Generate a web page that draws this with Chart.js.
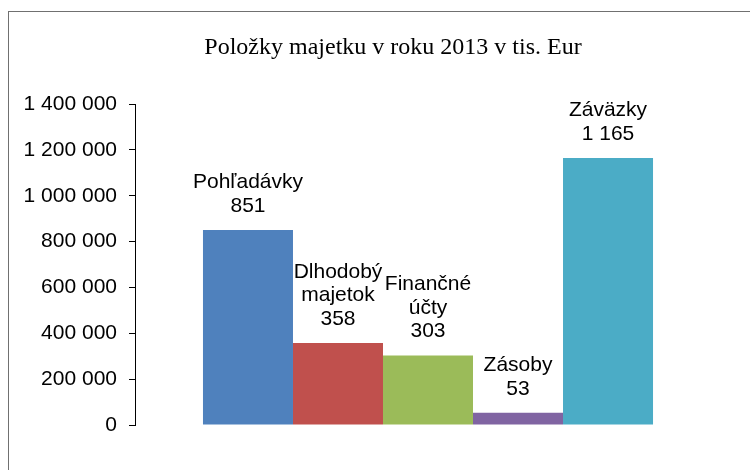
<!DOCTYPE html>
<html>
<head>
<meta charset="utf-8">
<script src="https://cdn.jsdelivr.net/npm/chart.js@4/dist/chart.umd.min.js"></script>
<style>
  html, body { margin: 0; padding: 0; background: #fff; }
  #wrap { position: relative; width: 750px; height: 470px; overflow: hidden; }
  #frame { position: absolute; left: 8px; top: 11px; width: 760px; height: 480px;
           border-left: 1px solid #707070; border-top: 1px solid #707070; box-sizing: border-box; }
  canvas { position: absolute; left: 0; top: 0; }
</style>
</head>
<body>
<div id="wrap">
  <div id="frame"></div>
  <canvas id="c" width="750" height="470"></canvas>
</div>
<script>
const title = "Položky majetku v roku 2013 v tis. Eur";
const categories = ["Pohľadávky", "Dlhodobý majetok", "Finančné účty", "Zásoby", "Záväzky"];
const values = [851000, 358000, 303000, 53000, 1165000];
const colors = ["#4F81BD", "#C0504D", "#9BBB59", "#8064A2", "#4BACC6"];
const yTicks = [0, 200000, 400000, 600000, 800000, 1000000, 1200000, 1400000];

function fmt(n) {
  return String(Math.round(n)).replace(/\B(?=(\d{3})+(?!\d))/g, " ");
}

const titlePlugin = {
  id: "fixedTitle",
  afterDraw(chart) {
    const ctx = chart.ctx;
    ctx.save();
    ctx.font = "24px 'Liberation Serif', 'Times New Roman', serif";
    ctx.fillStyle = "#000";
    ctx.textAlign = "center";
    ctx.textBaseline = "middle";
    ctx.fillText(chart.options.plugins.fixedTitle.text, 393, 48);
    ctx.restore();
  }
};

const labelPlugin = {
  id: "barLabels",
  afterDatasetsDraw(chart) {
    const ctx = chart.ctx;
    ctx.save();
    ctx.font = "21px 'Liberation Sans', Arial, sans-serif";
    ctx.fillStyle = "#000";
    ctx.textAlign = "center";
    ctx.textBaseline = "middle";
    chart.data.datasets.forEach((ds, i) => {
      const meta = chart.getDatasetMeta(i);
      const bar = meta.data[0];
      const w = Math.abs(bar.width);
      const words = ds.label.split(" ");
      let lines = [];
      let cur = "";
      words.forEach(wd => {
        const test = cur ? cur + " " + wd : wd;
        if (cur && ctx.measureText(test).width > w) { lines.push(cur); cur = wd; }
        else cur = test;
      });
      if (cur) lines.push(cur);
      lines.push(fmt(ds.data[0] / 1000));
      const n = lines.length;
      lines.forEach((ln, k) => {
        const y = bar.y - 24 - (n - 1 - k) * 23.5;
        ctx.fillText(ln, bar.x, y);
      });
    });
    ctx.restore();
  }
};

new Chart(document.getElementById("c"), {
  type: "bar",
  data: {
    labels: [""],
    datasets: categories.map((name, i) => ({
      label: name,
      data: [values[i]],
      backgroundColor: colors[i],
      borderWidth: 0
    }))
  },
  options: {
    responsive: false,
    animation: false,
    layout: { padding: { left: 0, right: 29, top: 104, bottom: 45 } },
    datasets: { bar: { categoryPercentage: 0.768, barPercentage: 1 } },
    plugins: {
      legend: { display: false },
      tooltip: { enabled: false },
      title: { display: false },
      fixedTitle: { text: title }
    },
    scales: {
      x: { display: false },
      y: {
        min: 0,
        max: 1400000,
        afterBuildTicks(axis) { axis.ticks = yTicks.map(v => ({ value: v })); },
        afterFit(axis) { axis.width = 135; },
        border: { display: true, color: "#000", width: 1 },
        grid: { drawOnChartArea: false, drawTicks: true, tickLength: 6, color: "#000" },
        ticks: {
          padding: 12,
          color: "#000",
          font: { family: "'Liberation Sans', Arial, sans-serif", size: 21 },
          callback: v => fmt(v)
        }
      }
    }
  },
  plugins: [labelPlugin, titlePlugin]
});
</script>
</body>
</html>
